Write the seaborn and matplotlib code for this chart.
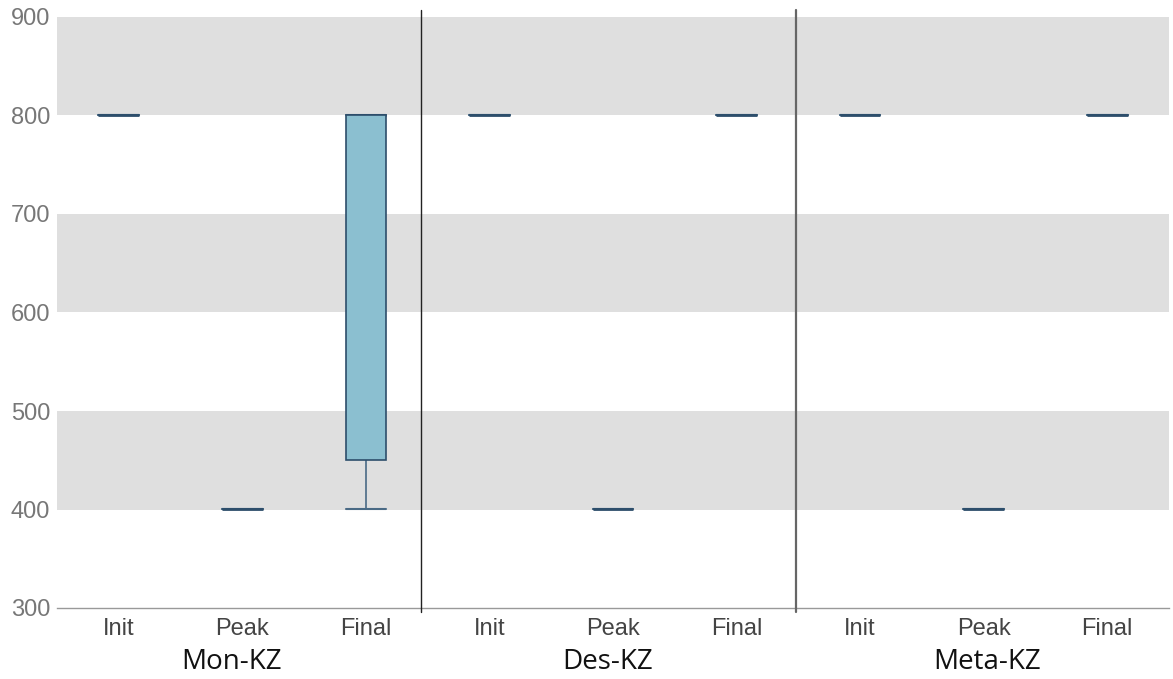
import matplotlib
matplotlib.use("Agg")
import matplotlib.pyplot as plt
import matplotlib.transforms as mtransforms
import numpy as np
import pandas as pd
import seaborn as sns

# Groups and measurement stages
groups = ["Mon-KZ", "Des-KZ", "Meta-KZ"]
stages = ["Init", "Peak", "Final"]

# Observed values per group/stage
mon_init = [800, 800, 800, 800, 800]
mon_peak = [400, 400, 400, 400, 400]
mon_final = [400, 450, 800, 800, 800]
des_init = [800, 800, 800, 800, 800]
des_peak = [400, 400, 400, 400, 400]
des_final = [800, 800, 800, 800, 800]
meta_init = [800, 800, 800, 800, 800]
meta_peak = [400, 400, 400, 400, 400]
meta_final = [800, 800, 800, 800, 800]

y_ticks = [300, 400, 500, 600, 700, 800, 900]

series = {
    ("Mon-KZ", "Init"): mon_init, ("Mon-KZ", "Peak"): mon_peak, ("Mon-KZ", "Final"): mon_final,
    ("Des-KZ", "Init"): des_init, ("Des-KZ", "Peak"): des_peak, ("Des-KZ", "Final"): des_final,
    ("Meta-KZ", "Init"): meta_init, ("Meta-KZ", "Peak"): meta_peak, ("Meta-KZ", "Final"): meta_final,
}

rows = []
order = []
for g in groups:
    for s in stages:
        key = f"{g}|{s}"
        order.append(key)
        for v in series[(g, s)]:
            rows.append({"slot": key, "value": v})
df = pd.DataFrame(rows)

sns.set_theme(style="white")
plt.rcParams["font.family"] = ["Liberation Sans", "DejaVu Sans"]

fig = plt.figure(figsize=(11.73, 6.79), dpi=100)
ax = fig.add_axes([57 / 1173, 1 - 608 / 679, (1169 - 57) / 1173, (608 - 17) / 679])

# alternating background bands
for lo, hi in [(400, 500), (600, 700), (800, 900)]:
    ax.axhspan(lo, hi, color="#dfdfdf", zorder=0, lw=0)

edge = "#2d4e6b"
sns.boxplot(
    data=df, x="slot", y="value", order=order, ax=ax,
    width=0.33, color="#8bbfd0", linecolor=edge, linewidth=1.2,
    saturation=1, showfliers=False, capwidths=0.33,
    medianprops=dict(color=edge, linewidth=2, solid_capstyle="butt"),
    boxprops=dict(zorder=3), whiskerprops=dict(color="#4a6a85", linewidth=1.2),
    capprops=dict(color="#4a6a85", linewidth=1.5),
)

ax.set_xlim(-0.5, 8.5)
ax.set_ylim(300, 900)
ax.set_yticks(y_ticks)
ax.set_yticklabels([str(t) for t in y_ticks], fontsize=17, color="#777777")
ax.tick_params(axis="y", length=0, pad=5)

ax.set_xticks(range(9))
ax.set_xticklabels(stages * 3, fontsize=17, color="#444444")
ax.set_xticks(np.arange(-0.5, 9, 1.0), minor=True)
ax.tick_params(axis="x", which="major", length=0, pad=7)
ax.tick_params(axis="x", which="minor", length=5, color="#999999", width=1)
ax.set_xlabel("")
ax.set_ylabel("")

for side in ["top", "right", "left"]:
    ax.spines[side].set_visible(False)
ax.spines["bottom"].set_color("#999999")
ax.spines["bottom"].set_linewidth(1)

# group separators extending a little past the plot area
trans = mtransforms.blended_transform_factory(ax.transData, ax.transAxes)
ax.plot([2.45, 2.45], [-0.007, 1.012], transform=trans, color="#222222", lw=1, clip_on=False, zorder=5)
ax.plot([5.48, 5.48], [-0.007, 1.012], transform=trans, color="#666666", lw=1.6, clip_on=False, zorder=5)

# group labels below the stage labels
label_x = [0.91, 3.96, 7.03]
for g, lx in zip(groups, label_x):
    ax.text(lx, -0.092, g, transform=trans, ha="center", va="center",
            fontsize=20, color="#111111", family=["Open Sans", "DejaVu Sans"])

fig.savefig("out.png", dpi=100)
